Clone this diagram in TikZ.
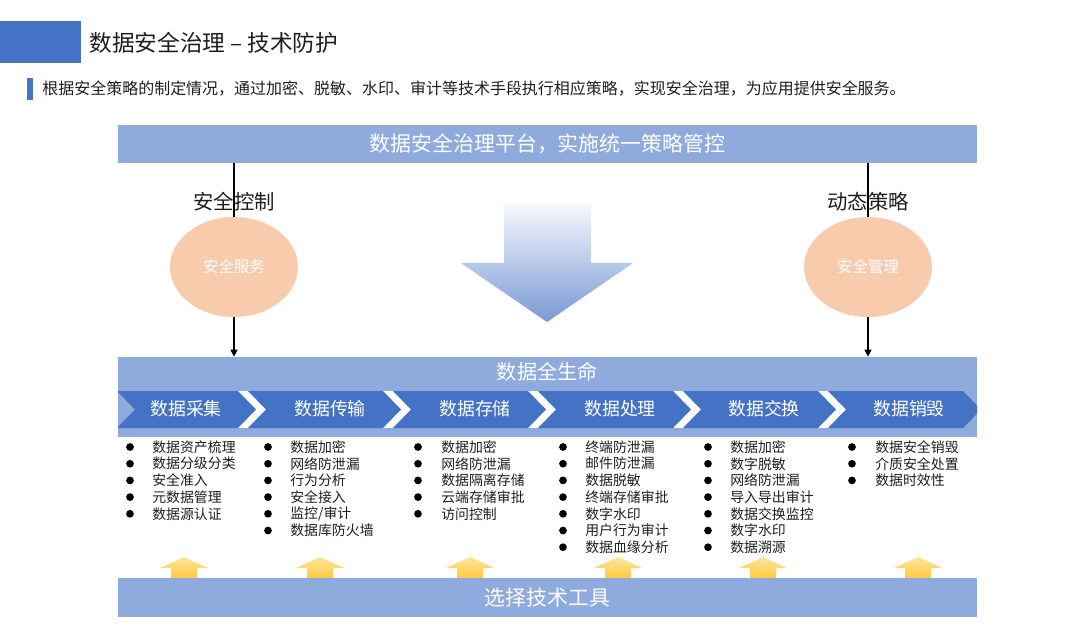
\documentclass[tikz,border=0pt]{standalone}
\usepackage{fontspec}
\setmainfont{Noto Sans CJK SC}
\usetikzlibrary{shapes.geometric, arrows.meta, positioning, calc, backgrounds}
\definecolor{secblue}{RGB}{68, 114, 196}
\definecolor{secsky}{RGB}{143, 170, 220}
\definecolor{secpeach}{RGB}{248, 203, 173}
\definecolor{secyellow}{RGB}{255, 196, 40}
\definecolor{secink}{RGB}{30, 30, 30}

\begin{document}
\begin{tikzpicture}[
    x=0.02cm, y=-0.02cm,
    bar/.style={
        rectangle,
        fill=secsky,
        minimum width=17.18cm,
        inner sep=0pt,
        text=white,
        font=\fontsize{11.9}{14}\selectfont
    },
    oval/.style={
        ellipse,
        fill=secpeach,
        minimum width=2.56cm,
        minimum height=2cm,
        text=white,
        font=\fontsize{8.8}{10}\selectfont
    },
    tag/.style={font=\fontsize{11.6}{13}\selectfont, text=secink},
    chevtext/.style={text=white, font=\fontsize{10.2}{12}\selectfont},
    item/.style={anchor=west, inner sep=0pt, font=\fontsize{7.9}{9}\selectfont, text=secink},
    vline/.style={-{Triangle[length=4pt, width=4pt]}, line width=0.6pt, draw=black},
    uparrow/.style={top color=secyellow!45, bottom color=secyellow!90}
]
\useasboundingbox (0,0) rectangle (1080,627);

% Title
\fill[secblue] (0,21) rectangle (81,63);
\node[anchor=west, inner sep=0pt, font=\fontsize{12.9}{15}\selectfont, text=secink] (title) at (89,43) {数据安全治理 – 技术防护};
\fill[secblue] (27,78) rectangle (33,100);
\node[anchor=west, inner sep=0pt, font=\fontsize{9.1}{11}\selectfont, text=secink] (intro) at (42,89) {根据安全策略的制定情况，通过加密、脱敏、水印、审计等技术手段执行相应策略，实现安全治理，为应用提供安全服务。};

% Platform bar
\node[bar, minimum height=0.76cm] (platform) at (547.5,144) {数据安全治理平台，实施统一策略管控};

% Control and policy
\node[tag] (control) at (234,202) {安全控制};
\node[tag] (policy) at (868,202) {动态策略};
\node[oval] (service) at (234,267) {安全服务};
\node[oval] (manage) at (868,267) {安全管理};

% Big down arrow
\shade[top color=secblue!4, bottom color=secblue!72]
    (504,203) -- (591,203) -- (591,263) -- (633,263) -- (547,322)
    -- (461,263) -- (504,263) -- cycle;

% Life cycle bar
\node[bar, minimum height=1.6cm] (lifecycle) at (547.5,397) {};
\node[text=white, font=\fontsize{11.5}{13}\selectfont] (lifetitle) at (547.5,372) {数据全生命};

% Vertical connectors behind the ovals
\begin{scope}[on background layer]
\draw[vline] (platform.south -| service.center) -- (lifecycle.north -| service.center);
\draw[vline] (platform.south -| manage.center) -- (lifecycle.north -| manage.center);
\end{scope}

% Chevrons (white gaps between them)
\begin{scope}
\clip (118,380) rectangle (977,440);
\fill[white] (238,391) rectangle (963,428);
\foreach \s/\e in {117/238, 248/383, 393/528, 538/673, 683/818, 828/963}
    \fill[secblue] (\s,391) -- (\e,391) -- ++(18,18.5) -- (\e,428) -- (\s,428) -- ++(18,-18.5) -- cycle;
\end{scope}
\foreach \x/\t/\n in {186/数据采集/collect, 330/数据传输/transfer, 475/数据存储/store,
                      620/数据处理/process, 764/数据交换/exchange, 909/数据销毁/destroy}
    \node[chevtext] (\n) at (\x,409) {\t};

% Technique lists
\foreach \t [count=\i] in {数据资产梳理, 数据分级分类, 安全准入, 元数据管理, 数据源认证} {
    \fill (130,{430.3+16.7*\i}) circle[radius=2.2pt];
    \node[item] (collect-\i) at (152,{430.3+16.7*\i}) {\t};
}
\foreach \t [count=\i] in {数据加密, 网络防泄漏, 行为分析, 安全接入, 监控/审计, 数据库防火墙} {
    \fill (268,{430.3+16.7*\i}) circle[radius=2.2pt];
    \node[item] (transfer-\i) at (290,{430.3+16.7*\i}) {\t};
}
\foreach \t [count=\i] in {数据加密, 网络防泄漏, 数据隔离存储, 云端存储审批, 访问控制} {
    \fill (418,{430.3+16.7*\i}) circle[radius=2.2pt];
    \node[item] (store-\i) at (441,{430.3+16.7*\i}) {\t};
}
\foreach \t [count=\i] in {终端防泄漏, 邮件防泄漏, 数据脱敏, 终端存储审批, 数字水印, 用户行为审计, 数据血缘分析} {
    \fill (563,{430.3+16.7*\i}) circle[radius=2.2pt];
    \node[item] (process-\i) at (585,{430.3+16.7*\i}) {\t};
}
\foreach \t [count=\i] in {数据加密, 数字脱敏, 网络防泄漏, 导入导出审计, 数据交换监控, 数字水印, 数据溯源} {
    \fill (708,{430.3+16.7*\i}) circle[radius=2.2pt];
    \node[item] (exchange-\i) at (730,{430.3+16.7*\i}) {\t};
}
\foreach \t [count=\i] in {数据安全销毁, 介质安全处置, 数据时效性} {
    \fill (852,{430.3+16.7*\i}) circle[radius=2.2pt];
    \node[item] (destroy-\i) at (875,{430.3+16.7*\i}) {\t};
}

% Yellow up arrows
\foreach \x in {184, 320, 470, 618, 763, 918}
    \shade[uparrow] (\x,557) -- ({\x+24},568) -- ({\x+13},568) -- ({\x+13},578)
        -- ({\x-13},578) -- ({\x-13},568) -- ({\x-24},568) -- cycle;

% Tool bar
\node[bar, minimum height=0.78cm] (toolbar) at (547.5,597.5) {选择技术工具};

\end{tikzpicture}
\end{document}
